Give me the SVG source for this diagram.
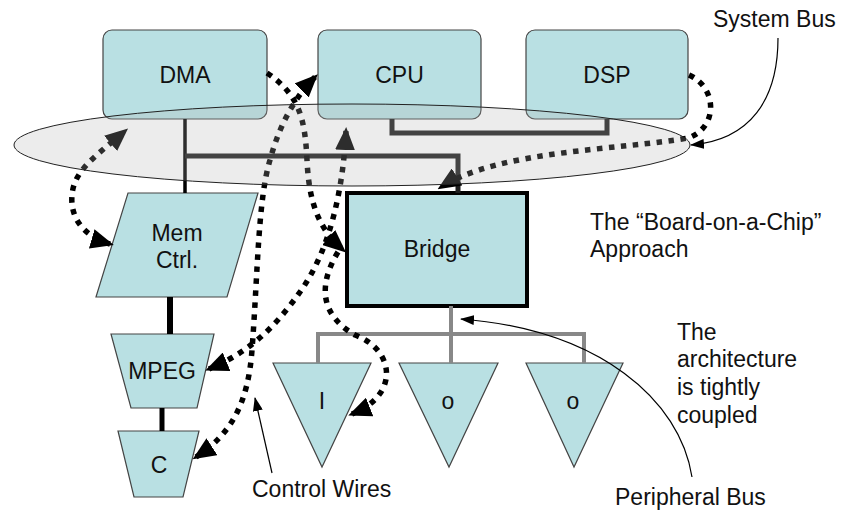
<svg xmlns="http://www.w3.org/2000/svg" width="843" height="511" viewBox="0 0 843 511">
  <defs>
    <style>
      .blk { fill: #b9e0e3; stroke: #444; stroke-width: 1.2; }
      .bridge { fill: #b9e0e3; stroke: #000; stroke-width: 4; }
      .lbl { font-family: "Liberation Sans", Arial, sans-serif; font-size: 23px; fill: #111; text-anchor: middle; }
      .note { font-family: "Liberation Sans", Arial, sans-serif; font-size: 23px; fill: #111; }
      .sysbus { fill: none; stroke: #1e1e1e; stroke-width: 5; stroke-linejoin: miter; }
      .stem { fill: none; stroke: #000; }
      .pbus { fill: none; stroke: #888; stroke-width: 4; stroke-linejoin: miter; }
      .ctl { fill: none; stroke: #000; stroke-width: 5.5; stroke-dasharray: 5.5 6.5; }
      .callout { fill: none; stroke: #000; stroke-width: 1.2; }
    </style>
    <marker id="head" markerUnits="userSpaceOnUse" markerWidth="23" markerHeight="20" refX="19" refY="10" orient="auto-start-reverse">
      <path d="M0,0 L23,10 L0,20 Z" fill="#000"/>
    </marker>
    <marker id="tip" markerUnits="userSpaceOnUse" markerWidth="14" markerHeight="10" refX="13" refY="5" orient="auto">
      <path d="M0,0 L14,5 L0,10 Z" fill="#000"/>
    </marker>
  </defs>

  <!-- processing blocks -->
  <g id="dma"><rect class="blk" x="103" y="30" width="164" height="89" rx="9"/><text class="lbl" x="185" y="83">DMA</text></g>
  <g id="cpu"><rect class="blk" x="318" y="30" width="163" height="89" rx="9"/><text class="lbl" x="399.5" y="83">CPU</text></g>
  <g id="dsp"><rect class="blk" x="526" y="30" width="162" height="89" rx="9"/><text class="lbl" x="607" y="83">DSP</text></g>
  <g id="bridge"><rect class="bridge" x="347" y="193" width="180" height="113"/><text class="lbl" x="437" y="257">Bridge</text></g>
  <g id="mem-ctrl"><polygon class="blk" points="128,193 258,193 227,297 96,297"/><text class="lbl" x="177" y="241">Mem</text><text class="lbl" x="177" y="268">Ctrl.</text></g>
  <g id="mpeg"><polygon class="blk" points="111,334 214,334 197,408 131,408"/><text class="lbl" x="162" y="379">MPEG</text></g>
  <g id="c"><polygon class="blk" points="118,431 199,431 183,497 134,497"/><text class="lbl" x="159" y="473">C</text></g>
  <g id="periph-i"><polygon class="blk" points="273,363 371,363 322,467"/><text class="lbl" x="322" y="409">I</text></g>
  <g id="periph-o1"><polygon class="blk" points="399,363 498,363 449,467"/><text class="lbl" x="448" y="409">o</text></g>
  <g id="periph-o2"><polygon class="blk" points="526,363 623,363 574,467"/><text class="lbl" x="573" y="409">o</text></g>

  <g id="connectors">
    <!-- system bus wiring -->
    <path class="stem" stroke-width="3.5" d="M185,119 V193"/>
    <path class="sysbus" d="M185,156 H458 V193"/>
    <path class="sysbus" d="M392,119 V133 H607 V119"/>
    <path class="stem" stroke-width="6" d="M170,297 V334"/>
    <path class="stem" stroke-width="5" d="M162,408 V431"/>
    <!-- peripheral bus -->
    <path class="pbus" d="M318,363 V334 H584 V363 M451,306 V363"/>

    <!-- control wires -->
    <path class="ctl" marker-start="url(#head)" marker-end="url(#head)" d="M110,244 C 82,236 70,216 72,195 C 74,170 96,156 125,131"/>
    <path class="ctl" marker-end="url(#head)" d="M267,73 C 300,95 305,120 307,160 C 309,205 320,230 343,250"/>
    <path class="ctl" marker-start="url(#head)" marker-end="url(#head)" d="M196,457 C 230,435 248,405 252,350 C 258,270 258,200 270,160 C 278,130 292,100 315,77"/>
    <path class="ctl" marker-start="url(#head)" marker-end="url(#head)" d="M346,131 C 343,190 330,250 300,292 C 280,320 255,350 209,369"/>
    <path class="ctl" marker-end="url(#head)" d="M338,252 C 318,285 320,315 355,335 C 395,350 400,395 352,414"/>
    <path class="ctl" marker-end="url(#head)" d="M689,75 C 718,88 718,128 688,138 C 620,150 500,150 441,187"/>

    <!-- callout leaders -->
    <path class="callout" marker-end="url(#tip)" d="M778,38 C 778,100 750,140 691,145"/>
    <path class="callout" marker-end="url(#tip)" d="M692,477 C 680,400 600,330 461,319"/>
    <path class="callout" marker-end="url(#tip)" d="M272,473 L255,398"/>
  </g>

  <!-- shaded system bus region -->
  <g id="system-bus-zone">
    <ellipse cx="352" cy="145" rx="338" ry="41" fill="#b4b4b4" fill-opacity="0.25" stroke="#222" stroke-width="1"/>
  </g>

  <g id="notes">
    <text class="note" x="713" y="27">System Bus</text>
    <text class="note" x="590" y="230">The “Board-on-a-Chip”</text>
    <text class="note" x="590" y="257">Approach</text>
    <text class="note" x="677" y="340">The</text>
    <text class="note" x="677" y="367">architecture</text>
    <text class="note" x="677" y="395">is tightly</text>
    <text class="note" x="677" y="423">coupled</text>
    <text class="note" x="615" y="505">Peripheral Bus</text>
    <text class="note" x="252" y="497">Control Wires</text>
  </g>
</svg>
